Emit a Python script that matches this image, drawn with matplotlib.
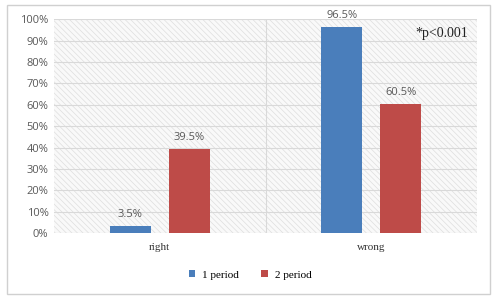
import matplotlib.pyplot as plt
import numpy as np
from matplotlib.patches import Rectangle

categories = ['right', 'wrong']
period1 = [3.5, 96.5]
period2 = [39.5, 60.5]
series_names = ['1 period', '2 period']
yticks = [0, 10, 20, 30, 40, 50, 60, 70, 80, 90, 100]

blue = '#4a7ebb'
red = '#be4b48'
gray_txt = '#595959'

plt.rcParams['hatch.color'] = '#dedede'
plt.rcParams['hatch.linewidth'] = 0.5

fig = plt.figure(figsize=(5, 3), dpi=100)
# outer chart frame
fig.patches.append(Rectangle((0.014, 0.02), 0.965, 0.963, transform=fig.transFigure,
                             fill=False, edgecolor='#d0d0d0', linewidth=1))
ax = fig.add_axes([0.108, 0.223, 0.846, 0.713])

x = np.arange(len(categories))
w = 0.195
off = 0.14

# hatched background
ax.set_facecolor('#f9f9f9')
ax.add_patch(Rectangle((0, 0), 1, 1, transform=ax.transAxes, facecolor='none',
                       hatch='\\\\\\\\\\\\', edgecolor='#dedede', linewidth=0, zorder=0))

for t in yticks:
    ax.axhline(t, color='#d9d9d9', linewidth=0.8, zorder=1)
ax.axvline(0.5, color='#d9d9d9', linewidth=0.8, zorder=1)

b1 = ax.bar(x - off, period1, w, color=blue, label=series_names[0], zorder=3)
b2 = ax.bar(x + off, period2, w, color=red, label=series_names[1], zorder=3)

for bars, vals in [(b1, period1), (b2, period2)]:
    for b, v in zip(bars, vals):
        ax.text(b.get_x() + b.get_width() / 2, v + 2.5, f'{v}%', ha='center', va='bottom',
                fontsize=8, color=gray_txt, family='Open Sans')

ax.text(0.979, 0.935, '*p<0.001', transform=ax.transAxes, ha='right', va='center',
        fontsize=10, family='Liberation Serif', color='#222222')

ax.set_xlim(-0.5, 1.5)
ax.set_ylim(0, 100)
ax.set_yticks(yticks)
ax.set_yticklabels([f'{t}%' for t in yticks], fontsize=8, color=gray_txt, family='Open Sans')
ax.set_xticks(x)
ax.set_xticklabels(categories, fontsize=8, family='Liberation Serif', color='#333333')
ax.tick_params(length=0, pad=7)
ax.tick_params(axis='y', pad=4)
for s in ax.spines.values():
    s.set_visible(False)

fig.legend(handles=[b1, b2], labels=series_names, loc='center', bbox_to_anchor=(0.5, 0.083),
           ncol=2, frameon=False, prop={'family': 'Liberation Serif', 'size': 8},
           handlelength=0.6, handleheight=0.6, handletextpad=0.6, columnspacing=2.0)

plt.savefig('out.png', dpi=100)
